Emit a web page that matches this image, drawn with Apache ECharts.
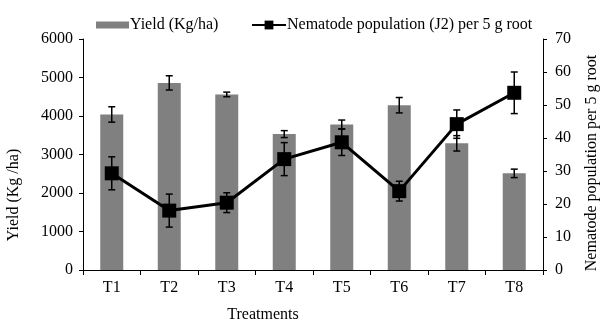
<!DOCTYPE html>
<html><head><meta charset="utf-8">
<script src="https://cdn.jsdelivr.net/npm/echarts@6/dist/echarts.min.js"></script>
<style>html,body{margin:0;padding:0;background:#fff}#c{width:600px;height:322px}</style>
</head><body><div id="c"></div>
<script>
var categories = ['T1','T2','T3','T4','T5','T6','T7','T8'];
var yieldVals = [4040, 4860, 4560, 3530, 3780, 4280, 3290, 2510];
var yieldErr = [200, 185, 60, 90, 115, 200, 200, 110];
var nemaVals = [29.3, 18.0, 20.4, 33.6, 38.7, 23.9, 44.2, 53.7];
var nemaErr = [5.0, 5.0, 3.0, 5.0, 4.0, 3.0, 4.3, 6.3];
var yieldTicks = [0, 6000, 1000];
var nemaTicks = [0, 70, 10];

var FONT = 'Liberation Serif';
var FS = 16;
var chart = echarts.init(document.getElementById('c'));

function errData(vals, errs){
  return vals.map(function(v,i){ return [i, v - errs[i], v + errs[i]]; });
}
function errRender(params, api){
  var i = api.value(0);
  var lo = api.coord([i, api.value(1)]);
  var hi = api.coord([i, api.value(2)]);
  var w = 3.5;
  var st = {stroke:'#000', lineWidth:1.5};
  return {type:'group', children:[
    {type:'line', shape:{x1:hi[0],y1:hi[1],x2:lo[0],y2:lo[1]}, style:st},
    {type:'line', shape:{x1:hi[0]-w,y1:hi[1],x2:hi[0]+w,y2:hi[1]}, style:st},
    {type:'line', shape:{x1:lo[0]-w,y1:lo[1],x2:lo[0]+w,y2:lo[1]}, style:st}
  ]};
}

var axisText = {color:'#000', fontFamily:FONT, fontSize:FS};
var legendText = {color:'#000', fontFamily:FONT, fontSize:FS, padding:[0,0,0,-4]};
chart.setOption({
  animation:false,
  textStyle:{fontFamily:FONT},
  grid:{left:83, right:57, top:39, bottom:52},
  legend:[
    {top:12, left:91, itemWidth:33, itemHeight:7, textStyle:legendText,
     data:[{name:'Yield (Kg/ha)', icon:'rect'}]},
    {top:12, left:246, itemWidth:34, itemHeight:11, textStyle:legendText,
     data:[{name:'Nematode population (J2) per 5 g root'}]}
  ],
  xAxis:{
    type:'category', data:categories,
    axisLine:{lineStyle:{color:'#000', width:1}},
    axisTick:{show:true, length:5, lineStyle:{color:'#000'}},
    axisLabel:Object.assign({margin:10}, axisText)
  },
  yAxis:[
    {type:'value', min:yieldTicks[0], max:yieldTicks[1], interval:yieldTicks[2],
     axisLine:{show:true, lineStyle:{color:'#000'}},
     axisTick:{show:true, length:4, lineStyle:{color:'#000'}},
     splitLine:{show:false},
     axisLabel:Object.assign({margin:10, formatter:function(v){return String(v);}}, axisText)},
    {type:'value', min:nemaTicks[0], max:nemaTicks[1], interval:nemaTicks[2],
     axisLine:{show:true, lineStyle:{color:'#000'}},
     axisTick:{show:true, length:4, lineStyle:{color:'#000'}},
     splitLine:{show:false},
     axisLabel:Object.assign({margin:12, formatter:function(v){return String(v);}}, axisText)}
  ],
  series:[
    {name:'Yield (Kg/ha)', type:'bar', data:yieldVals, barWidth:'40%',
     itemStyle:{color:'#808080'}, z:1},
    {type:'custom', data:errData(yieldVals, yieldErr), renderItem:errRender, z:2,
     encode:{x:0, y:[1,2]}},
    {name:'Nematode population (J2) per 5 g root', type:'line', yAxisIndex:1, data:nemaVals,
     symbol:'rect', symbolSize:14, lineStyle:{color:'#000', width:3},
     itemStyle:{color:'#000'}, z:3},
    {type:'custom', yAxisIndex:1, data:errData(nemaVals, nemaErr), renderItem:errRender, z:4,
     encode:{x:0, y:[1,2]}}
  ],
  graphic:[
    {type:'text', x:14, y:195, rotation:Math.PI/2,
     style:{text:'Yield (Kg /ha)', fill:'#000', font:FS+'px "Liberation Serif"', align:'center', verticalAlign:'middle'}},
    {type:'text', x:592, y:163, rotation:Math.PI/2,
     style:{text:'Nematode population per 5 g root', fill:'#000', font:FS+'px "Liberation Serif"', align:'center', verticalAlign:'middle'}},
    {type:'text', x:263, y:315,
     style:{text:'Treatments', fill:'#000', font:FS+'px "Liberation Serif"', align:'center', verticalAlign:'middle'}}
  ]
});
</script></body></html>
